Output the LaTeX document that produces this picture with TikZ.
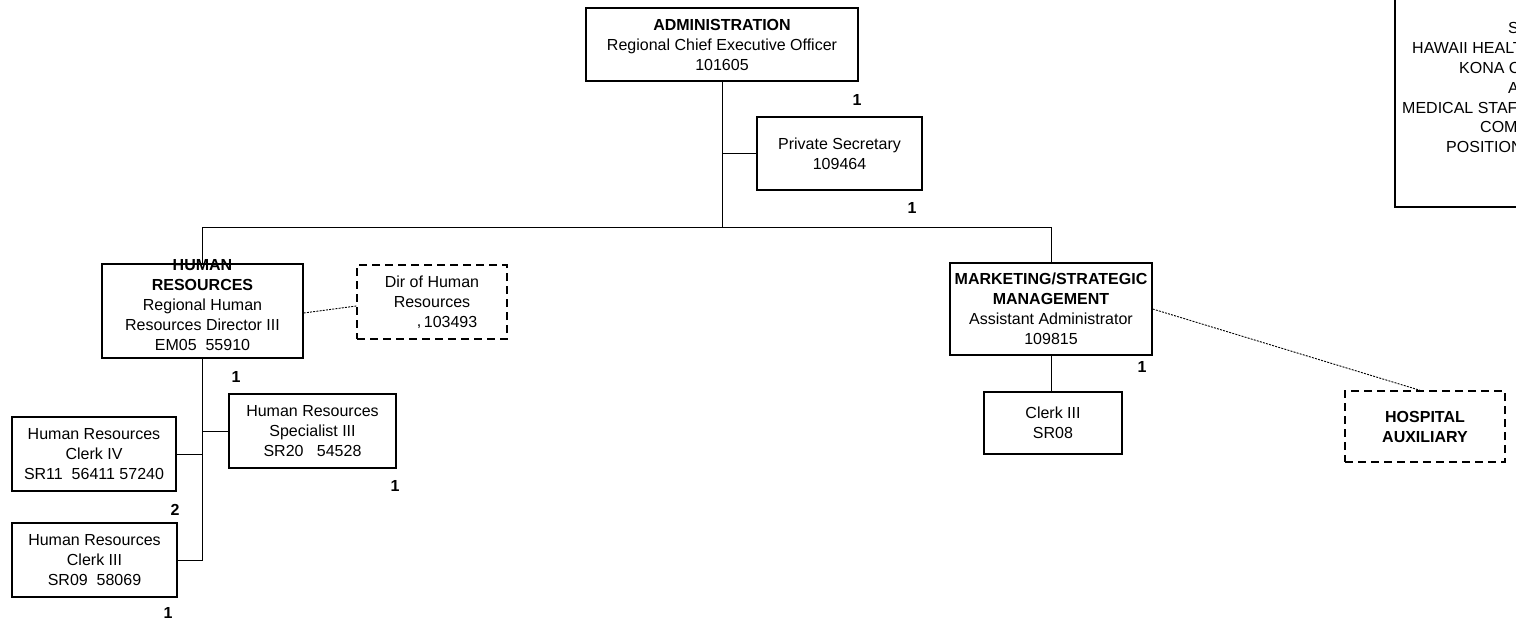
\documentclass[tikz,border=0pt]{standalone}
\usepackage{fontspec}
\setmainfont{Liberation Sans}
\newcommand\fs{\fontsize{16}{20}\selectfont}
\begin{document}
\begin{tikzpicture}[x=1pt,y=-1pt,
  box/.style={draw, line width=1.4pt, align=center, inner sep=0pt, font=\fs},
  dbox/.style={box, dash pattern=on 8pt off 5pt},
  txt/.style={align=center, inner sep=0pt, font=\fs},
  conn/.style={line width=0.9pt},
  dotconn/.style={line width=0.9pt, dash pattern=on 2pt off 1.2pt},
  num/.style={font=\fs\bfseries, inner sep=0pt}]
\useasboundingbox (0,0) rectangle (1516,627);
\fill[white] (0,0) rectangle (1516,627);

% boxes
\node[box, minimum width=272pt, minimum height=73pt] (admin) at (722,44.5)
  {\textbf{ADMINISTRATION}\\Regional Chief Executive Officer\\101605};
\node[box, minimum width=165pt, minimum height=73pt] (ps) at (839.5,153.5)
  {Private Secretary\\109464};
\node[box, minimum width=201pt, minimum height=94pt] (hr) at (202.5,311) {};
\node[txt] (hrtxt) at (202.5,305)
  {\textbf{HUMAN}\\\textbf{RESOURCES}\\Regional Human\\Resources Director III\\EM05\ \ 55910};
\node[dbox, minimum width=150pt, minimum height=74pt] (dir) at (432,302)
  {Dir of Human\\Resources\\\hspace*{30pt}\raisebox{1pt}{,}\,103493};
\node[box, minimum width=167pt, minimum height=74pt] (spec) at (312.5,431)
  {Human Resources\\Specialist III\\SR20\ \ \ 54528};
\node[box, minimum width=164pt, minimum height=74pt] (clk4) at (94,454)
  {Human Resources\\Clerk IV\\SR11\ \ 56411 57240};
\node[box, minimum width=165pt, minimum height=74pt] (clk3) at (94.5,560)
  {Human Resources\\Clerk III\\SR09\ \ 58069};
\node[box, minimum width=202pt, minimum height=92pt] (mkt) at (1051,309)
  {\textbf{MARKETING/STRATEGIC}\\\textbf{MANAGEMENT}\\Assistant Administrator\\109815};
\node[box, minimum width=138pt, minimum height=62pt] (clk8) at (1053,423)
  {Clerk III\\SR08};
\node[dbox, minimum width=160pt, minimum height=71pt] (hosp) at (1425,426.5)
  {\textbf{HOSPITAL}\\\textbf{AUXILIARY}};

% numbers
\node[num] (n1) at (857,100) {1};
\node[num] (n2) at (912,208) {1};
\node[num] (n3) at (236,377) {1};
\node[num] (n4) at (395,486) {1};
\node[num] (n5) at (175,510) {2};
\node[num] (n6) at (168,613) {1};
\node[num] (n7) at (1142,367) {1};

% connectors
\coordinate (barM) at (722,227.5);
\draw[conn] (admin.south) -- (barM);
\draw[conn] (admin.south |- ps.west) -- (ps.west);
\draw[conn] (hr.north) |- (barM) -| (mkt.north);
\draw[conn] (hr.south) -- (hr.south |- clk3.east) -- (clk3.east);
\draw[conn] (hr.south |- spec.west) -- (spec.west);
\draw[conn] (hr.south |- clk4.east) -- (clk4.east);
\draw[conn] (mkt.south) -- (mkt.south |- clk8.north);
\draw[dotconn] ([yshift=-2pt]hr.east) -- ([yshift=-4pt]dir.west);
\draw[dotconn] (mkt.east) -- ([xshift=-5pt]hosp.north);

% partly visible title box at the right edge (cut off in the reference too)
\begin{scope}
\clip (0,0) rectangle (1516,627);
\draw[line width=1.4pt] (1395,-10) rectangle (1600,207);
\node[txt, anchor=base west] (t1) at (1508,33) {S};
\node[txt, anchor=base west] (t2) at (1412,53) {HAWAII HEALT};
\node[txt, anchor=base west] (t3) at (1459,73) {KONA C};
\node[txt, anchor=base west] (t4) at (1508,93) {A};
\node[txt, anchor=base west] (t5) at (1402,113) {MEDICAL STAF};
\node[txt, anchor=base west] (t6) at (1480,132) {COM};
\node[txt, anchor=base west] (t7) at (1446,152) {POSITION};
\end{scope}
\end{tikzpicture}
\end{document}
